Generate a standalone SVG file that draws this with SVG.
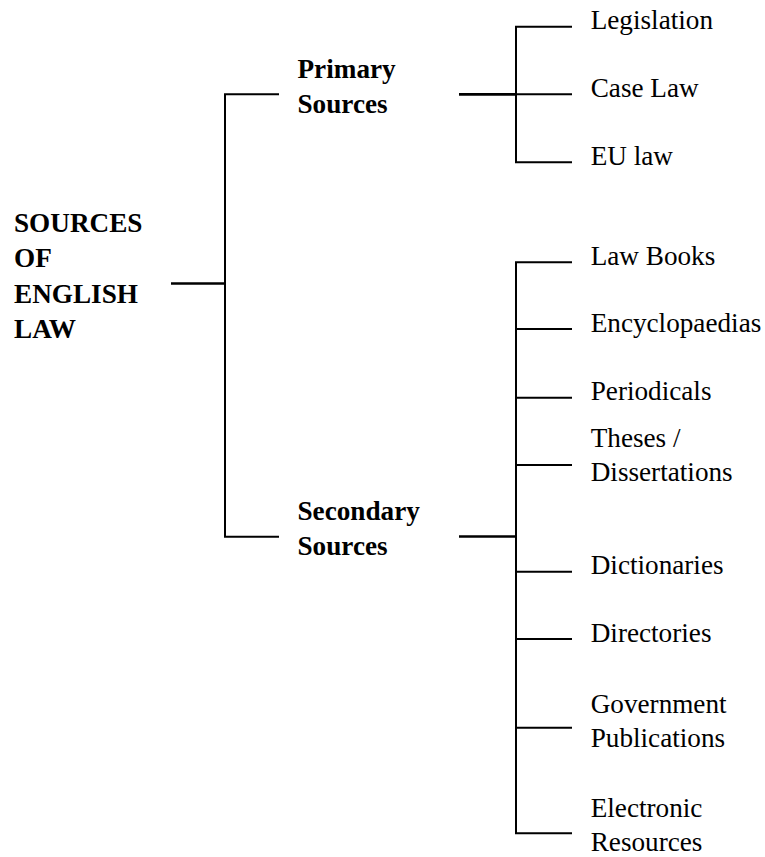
<svg xmlns="http://www.w3.org/2000/svg" width="765" height="857" viewBox="0 0 765 857">
<style>
.t{font-family:"Liberation Serif","Times New Roman",serif;font-size:27.2px;fill:#000}
.b{font-weight:bold}
.l{stroke:#000;stroke-width:2;fill:none}
.k{stroke:#000;stroke-width:2.7;fill:none}
</style>
<rect width="765" height="857" fill="#fff"/>
<g id="connectors">
<line class="k" x1="171" y1="283.5" x2="225" y2="283.5"/>
<polyline class="l" points="279,94.3 225,94.3 225,536.7 279,536.7"/>
<line class="k" x1="459" y1="94.3" x2="516" y2="94.3"/>
<polyline class="l" points="572,26.7 516,26.7 516,162.3 572,162.3"/>
<line class="l" x1="516" y1="94.3" x2="572" y2="94.3"/>
<line class="k" x1="459" y1="536.5" x2="516" y2="536.5"/>
<polyline class="l" points="572,262.3 516,262.3 516,833.3 572,833.3"/>
<line class="l" x1="516" y1="329" x2="572" y2="329"/>
<line class="l" x1="516" y1="397.7" x2="572" y2="397.7"/>
<line class="l" x1="516" y1="465" x2="572" y2="465"/>
<line class="l" x1="516" y1="571.7" x2="572" y2="571.7"/>
<line class="l" x1="516" y1="639" x2="572" y2="639"/>
<line class="l" x1="516" y1="727.7" x2="572" y2="727.7"/>
</g>
<g id="root"><text class="t b" x="14"><tspan x="14" y="231.7">SOURCES</tspan><tspan x="14" y="267.3">OF</tspan><tspan x="14" y="302.8">ENGLISH</tspan><tspan x="14" y="337.5">LAW</tspan></text></g>
<g id="primary"><text class="t b"><tspan x="297.5" y="78.3">Primary</tspan><tspan x="297.5" y="113.3">Sources</tspan></text></g>
<g id="secondary"><text class="t b"><tspan x="297.5" y="520">Secondary</tspan><tspan x="297.5" y="554.5">Sources</tspan></text></g>
<g id="legislation"><text class="t" x="590.7" y="29.3">Legislation</text></g>
<g id="caselaw"><text class="t" x="590.7" y="97.3">Case Law</text></g>
<g id="eulaw"><text class="t" x="590.7" y="165">EU law</text></g>
<g id="lawbooks"><text class="t" x="590.7" y="265">Law Books</text></g>
<g id="encyclopaedias"><text class="t" x="590.7" y="332.3">Encyclopaedias</text></g>
<g id="periodicals"><text class="t" x="590.7" y="400">Periodicals</text></g>
<g id="theses"><text class="t"><tspan x="590.7" y="446.7">Theses /</tspan><tspan x="590.7" y="480.5">Dissertations</tspan></text></g>
<g id="dictionaries"><text class="t" x="590.7" y="574.3">Dictionaries</text></g>
<g id="directories"><text class="t" x="590.7" y="641.5">Directories</text></g>
<g id="government"><text class="t"><tspan x="590.7" y="712.7">Government</tspan><tspan x="590.7" y="746.7">Publications</tspan></text></g>
<g id="electronic"><text class="t"><tspan x="590.7" y="816.7">Electronic</tspan><tspan x="590.7" y="851.3">Resources</tspan></text></g>
</svg>
